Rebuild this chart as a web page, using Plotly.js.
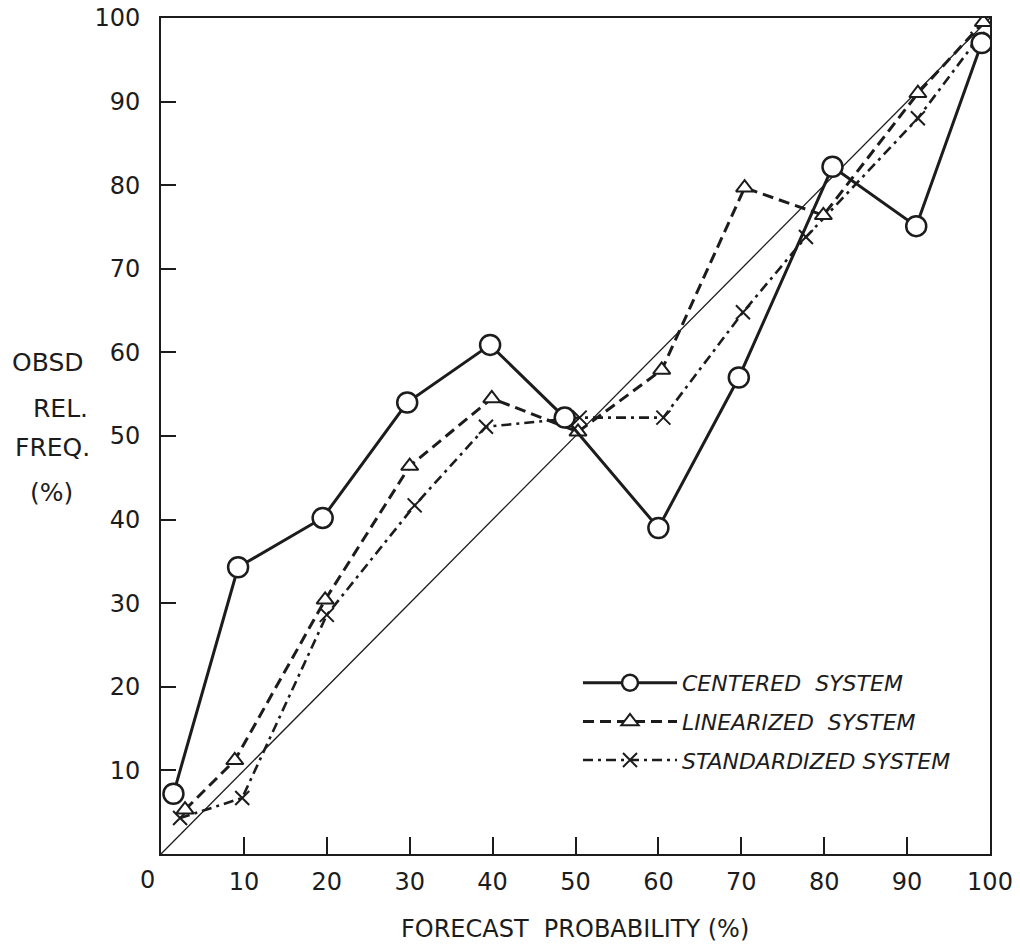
<!DOCTYPE html>
<html>
<head>
<meta charset="utf-8">
<script src="https://cdn.plot.ly/plotly-3.0.1.min.js"></script>
<style>html,body{margin:0;padding:0;background:#fff;}#chart{width:1020px;height:949px;}</style>
</head>
<body>
<div id="chart"></div>
<script>
// ---- data ----
const centeredX = [1.5, 9.3, 19.5, 29.7, 39.7, 48.7, 60.0, 69.7, 81.0, 91.1, 99.0];
const centeredY = [7.2, 34.3, 40.2, 54.0, 60.9, 52.2, 39.0, 57.0, 82.2, 75.1, 97.0];

const linearX = [2.9, 8.9, 19.8, 30.0, 39.9, 50.3, 60.4, 70.4, 79.9, 91.3, 99.2];
const linearY = [5.3, 11.2, 30.4, 46.4, 54.5, 50.5, 57.9, 79.7, 76.4, 91.0, 99.5];

const standX = [2.3, 9.8, 20.0, 30.6, 39.2, 50.5, 60.6, 70.2, 77.8, 91.3, 98.5];
const standY = [4.3, 6.7, 28.6, 41.7, 51.1, 52.2, 52.2, 64.8, 73.8, 88.0, 97.5];

const refX = [0, 100];
const refY = [0, 100];

const tickVals = [10, 20, 30, 40, 50, 60, 70, 80, 90, 100];
const tickText = ['10', '20', '30', '40', '50', '60', '70', '80', '90', '100'];

const seriesNames = ['CENTERED\u00a0\u00a0SYSTEM', 'LINEARIZED\u00a0\u00a0SYSTEM', 'STANDARDIZED\u00a0SYSTEM'];
const yTitleLines = ['OBSD', 'REL.', 'FREQ.', '(%)'];
const xTitle = 'FORECAST\u00a0\u00a0PROBABILITY\u00a0(%)';

const ink = '#1c1c1c';
const tickFont = {family: 'DejaVu Sans', size: 24, color: ink};

const traces = [
  {x: refX, y: refY, mode: 'lines', line: {color: ink, width: 1.3}, showlegend: false, hoverinfo: 'skip'},
  {x: standX, y: standY, name: seriesNames[2], legendrank: 3, mode: 'lines+markers',
   line: {color: ink, width: 2.6, dash: '10px,5px,3px,5px'},
   marker: {symbol: 'x-thin-open', size: 14, line: {color: ink, width: 2}}},
  {x: linearX, y: linearY, name: seriesNames[1], legendrank: 2, mode: 'lines+markers',
   line: {color: ink, width: 3, dash: '11px,6px'},
   marker: {symbol: 'triangle-up', size: 15, color: '#fff', line: {color: ink, width: 2}}},
  {x: centeredX, y: centeredY, name: seriesNames[0], legendrank: 1, mode: 'lines+markers',
   line: {color: ink, width: 3},
   marker: {symbol: 'circle', size: 20, color: '#fff', line: {color: ink, width: 2.5}}}
];
traces.forEach((t, i) => { if (i > 0) t.legendgroup = 'g' + i; });

const L = 161, R = 990, T = 18, B = 854, W = 1020, H = 949;
const px = v => (v - L) / (R - L);
const py = v => (B - v) / (B - T);

const annotations = [];
const yLinePos = [362, 408, 448, 492];
const yLineX = [48, 60, 52, 51];
yTitleLines.forEach((t, i) => annotations.push({
  text: t, xref: 'paper', yref: 'paper', x: px(yLineX[i]), y: py(yLinePos[i]),
  xanchor: 'center', yanchor: 'middle', showarrow: false,
  font: {family: 'DejaVu Sans', size: 25, color: ink}
}));
annotations.push({text: xTitle, xref: 'paper', yref: 'paper', x: px(575), y: py(929),
  xanchor: 'center', yanchor: 'middle', showarrow: false,
  font: {family: 'DejaVu Sans', size: 24, color: ink}});
annotations.push({text: '0', xref: 'paper', yref: 'paper', x: px(147), y: py(880),
  xanchor: 'center', yanchor: 'middle', showarrow: false, font: tickFont});

const layout = {
  width: W, height: H,
  margin: {l: L, r: W - R, t: T, b: H - B},
  paper_bgcolor: '#fff', plot_bgcolor: '#fff',
  showlegend: true,
  legend: {x: px(578), y: py(662), xanchor: 'left', yanchor: 'top',
    traceorder: 'grouped', itemwidth: 94, bgcolor: 'rgba(0,0,0,0)',
    font: {family: 'DejaVu Sans', size: 22, color: ink, style: 'italic'}, tracegroupgap: 7},
  xaxis: {range: [0, 100], showgrid: false, zeroline: false, showline: true, mirror: true,
    linecolor: ink, linewidth: 2, ticks: 'inside', ticklen: 17, tickwidth: 2, tickcolor: ink,
    tickmode: 'array', tickvals: tickVals, ticktext: tickText, tickfont: tickFont,
    ticklabelstandoff: 5, fixedrange: true},
  yaxis: {range: [0, 100], showgrid: false, zeroline: false, showline: true, mirror: true,
    linecolor: ink, linewidth: 2, ticks: 'inside', ticklen: 15, tickwidth: 2, tickcolor: ink,
    tickmode: 'array', tickvals: tickVals, ticktext: tickText, tickfont: tickFont,
    ticklabelstandoff: 14, fixedrange: true},
  annotations: annotations
};

Plotly.newPlot('chart', traces, layout, {displayModeBar: false, staticPlot: true});
</script>
</body>
</html>
